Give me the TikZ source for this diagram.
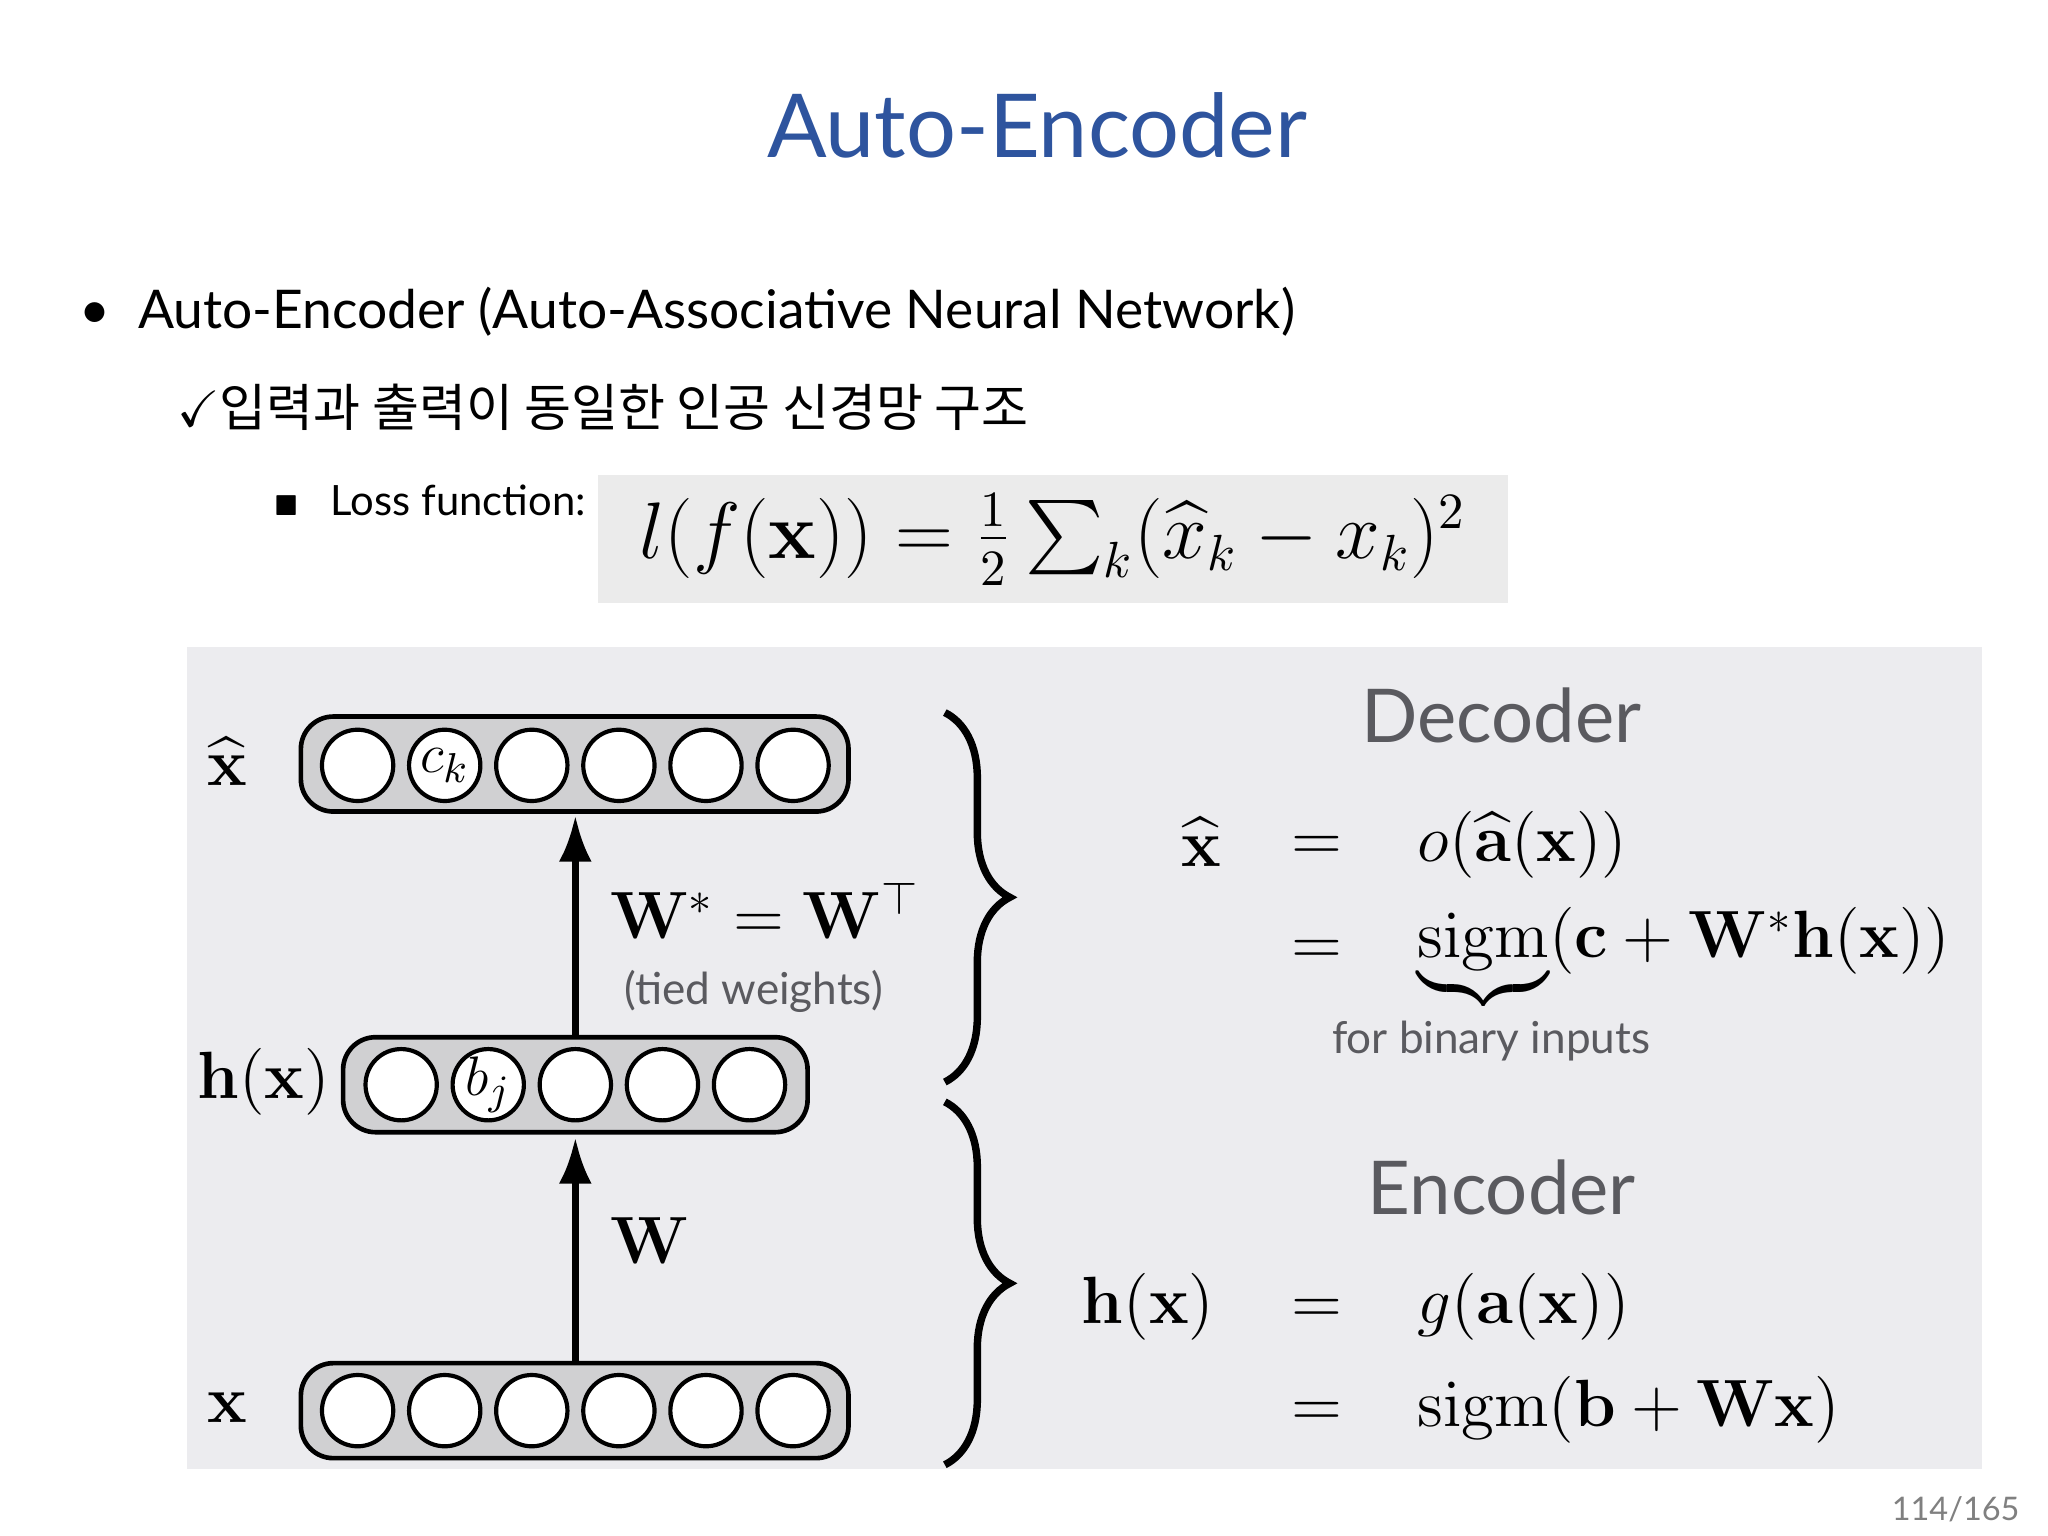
\documentclass[tikz,border=0pt]{standalone}
\usepackage{amsmath,amssymb}
\usepackage[no-math]{fontspec}
\setmainfont{Lato}
\newfontfamily\kor{Noto Sans CJK KR}
\usetikzlibrary{arrows.meta,positioning,decorations.pathreplacing}
\definecolor{titleblue}{RGB}{46,84,158}
\definecolor{panelgray}{RGB}{236,236,239}
\definecolor{layergray}{RGB}{208,208,210}
\definecolor{softtext}{RGB}{90,90,95}
\begin{document}
\begin{tikzpicture}[x=0.01cm, y=-0.01cm, >=Latex,
		  layer/.style={draw, line width=1pt, rounded corners=7pt, fill=layergray},
		  unit/.style={draw, line width=0.9pt, circle, fill=white, minimum size=0.54cm, inner sep=0pt},
		  feed/.style={->, line width=1.5pt, >={Latex[length=3.5mm,width=2.5mm]}},
		  wrap/.style={decorate, decoration={brace, amplitude=14pt}, line width=1.6pt},
		  lbl/.style={font=\fontsize{14}{16}\selectfont}
		]
		\useasboundingbox (0,0) rectangle (1552,1164);
		\fill[white] (0,0) rectangle (1552,1164);
		
		% header
		\node[text=titleblue, font=\fontsize{19}{22}\selectfont] (title) at (786,95) {Auto-Encoder};
		\node[anchor=west, font=\fontsize{11.5}{14}\selectfont] (bullet) at (48,236) {\textbullet\ \ Auto-Encoder (Auto-Associative Neural Network)};
		\node[anchor=west, font=\fontsize{11}{13}\selectfont] (sub) at (122,309) {$\checkmark$\kor 입력과 출력이 동일한 인공 신경망 구조};
		\node[anchor=west, font=\fontsize{9}{11}\selectfont] (loss) at (195,379) {{\tiny$\blacksquare$}\ \ \ Loss function:};
		\fill[black!8] (453,360) rectangle (1143,457);
		\node[font=\fontsize{16}{18}\selectfont] (lossf) at (798,409) {$l(f(\mathbf{x}))=\frac{1}{2}\sum_k(\widehat{x}_k-x_k)^2$};
		
		% diagram panel
		\fill[panelgray] (142,490) rectangle (1502,1113);
		\draw[layer] (228,543) rectangle (643,615);
		\draw[layer] (260,786) rectangle (612,858);
		\draw[layer] (228,1033) rectangle (643,1105);
		\coordinate (top_in) at (436,618);
		\coordinate (mid_out) at (436,785);
		\coordinate (mid_in) at (436,862);
		\coordinate (bot_out) at (436,1031);
		\foreach \i/\x in {1/271,2/337,3/403,4/469,5/535,6/601} {
		  \node[unit] (o\i) at (\x,580) {};
		  \node[unit] (x\i) at (\x,1069) {};
		}
		\foreach \i/\x in {1/304,2/370,3/436,4/502,5/568}
		  \node[unit] (h\i) at (\x,822) {};
		\node[font=\fontsize{13}{15}\selectfont] at (o2) {$c_k$};
		\node[font=\fontsize{13}{15}\selectfont] at (h2) {$b_j$};
		\draw[feed] (bot_out) -- (mid_in);
		\draw[feed] (mid_out) -- (top_in);
		
		\node[lbl] (xhat) at (172,577) {$\widehat{\mathbf{x}}$};
		\node[lbl] (hx) at (200,820) {$\mathbf{h}(\mathbf{x})$};
		\node[lbl] (xin) at (172,1067) {$\mathbf{x}$};
		\node[lbl, anchor=west] (wstar) at (450,690) {$\mathbf{W}^*=\mathbf{W}^\top$};
		\node[text=softtext, font=\fontsize{9.5}{11}\selectfont] (tied) at (571,751) {(tied weights)};
		\node[lbl, anchor=west] (wenc) at (450,940) {$\mathbf{W}$};
		
		% braces
		\draw[wrap] (716,540) -- (716,820);
		\draw[wrap] (716,835) -- (716,1110);
		
		% decoder
		\node[text=softtext, font=\fontsize{16}{18}\selectfont] (dec) at (1138,542) {Decoder};
		\node[lbl] (dx) at (910,638) {$\widehat{\mathbf{x}}$};
		\node[lbl] (de1) at (998,643) {$=$};
		\node[lbl] (de2) at (998,722) {$=$};
		\node[lbl, anchor=west] (dr1) at (1062,640) {$o(\widehat{\mathbf{a}}(\mathbf{x}))$};
		\node[lbl, anchor=west] (dr2) at (1062,725) {$\underbrace{\mathrm{sigm}}(\mathbf{c}+\mathbf{W}^*\mathbf{h}(\mathbf{x}))$};
		\node[text=softtext, font=\fontsize{9.5}{11}\selectfont] (bin) at (1130,789) {for binary inputs};
		
		% encoder
		\node[text=softtext, font=\fontsize{16}{18}\selectfont] (enc) at (1138,900) {Encoder};
		\node[lbl] (ehx) at (870,990) {$\mathbf{h}(\mathbf{x})$};
		\node[lbl] (ee1) at (998,994) {$=$};
		\node[lbl] (ee2) at (998,1072) {$=$};
		\node[lbl, anchor=west] (er1) at (1062,990) {$g(\mathbf{a}(\mathbf{x}))$};
		\node[lbl, anchor=west] (er2) at (1062,1068) {$\mathrm{sigm}(\mathbf{b}+\mathbf{W}\mathbf{x})$};
		
		\node[text=gray, font=\fontsize{7}{8}\selectfont] (page) at (1482,1144) {114/165};
		\end{tikzpicture}
\end{document}
